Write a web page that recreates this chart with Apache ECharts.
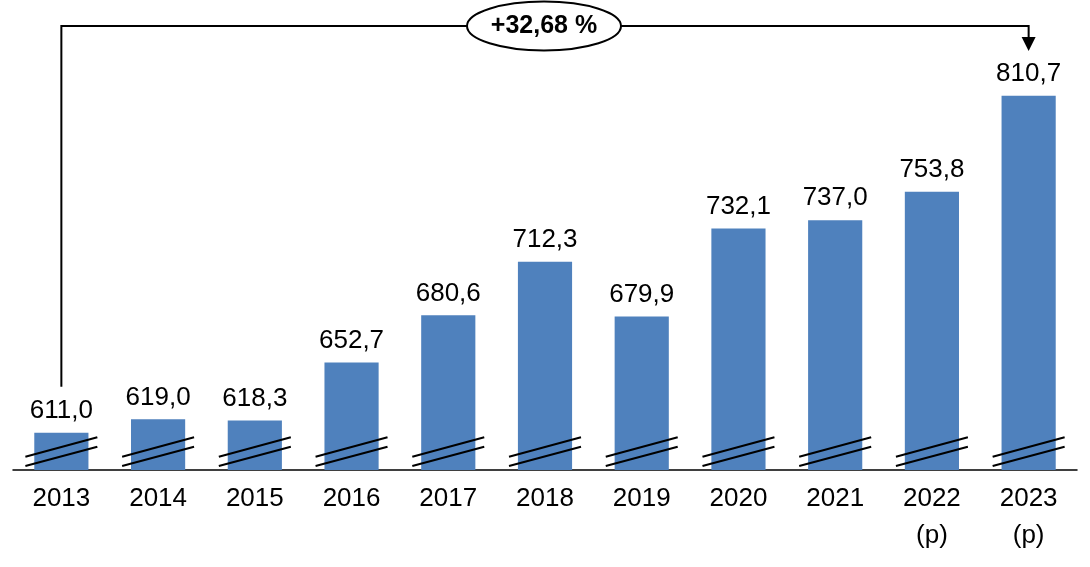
<!DOCTYPE html>
<html>
<head>
<meta charset="utf-8">
<script src="https://cdn.jsdelivr.net/npm/echarts@6/dist/echarts.min.js"></script>
<style>
html,body{margin:0;padding:0;background:#fff;}
#chart{width:1090px;height:567px;}
</style>
</head>
<body>
<div id="chart"></div>
<script>
const categories = ['2013','2014','2015','2016','2017','2018','2019','2020','2021','2022\n(p)','2023\n(p)'];
const values = [611.0, 619.0, 618.3, 652.7, 680.6, 712.3, 679.9, 732.1, 737.0, 753.8, 810.7];
const growthLabel = '+32,68 %';
const axisMin = 589;
const axisMax = 852;

const FONT = '"Liberation Sans", Arial, sans-serif';
const chart = echarts.init(document.getElementById('chart'));

const option = {
  animation: false,
  backgroundColor: '#ffffff',
  grid: {left: 13, right: 13, top: 26, bottom: 97, containLabel: false},
  xAxis: {
    type: 'category',
    data: categories,
    axisLine: {show: true, lineStyle: {color: '#000', width: 1.5}},
    axisTick: {show: false},
    axisLabel: {color: '#000', fontSize: 26, fontFamily: FONT, lineHeight: 37, margin: 10, interval: 0}
  },
  yAxis: {
    type: 'value', min: axisMin, max: axisMax, show: false,
    splitLine: {show: false}
  },
  series: [
    {
      type: 'bar',
      data: values,
      barCategoryGap: '44%',
      itemStyle: {color: '#4F81BD'},
      label: {
        show: true, position: 'top', distance: 9,
        color: '#000', fontSize: 26, fontFamily: FONT,
        formatter: p => p.value.toFixed(1).replace('.', ',')
      }
    },
    {
      type: 'custom',
      data: categories.map((c, i) => [i]),
      silent: true,
      z: 5,
      renderItem: function (params, api) {
        const p = api.coord([api.value(0), axisMin]);
        const cx = p[0], base = p[1];
        const half = api.size([1, 0])[0] * 0.372;
        const st = {stroke: '#000', lineWidth: 2, fill: null};
        return {
          type: 'group',
          children: [
            {type: 'line', shape: {x1: cx - half, y1: base - 13.3, x2: cx + half, y2: base - 32.7}, style: st},
            {type: 'line', shape: {x1: cx - half, y1: base - 4, x2: cx + half, y2: base - 23.3}, style: st}
          ]
        };
      }
    }
  ]
};
chart.setOption(option);

// Bracket annotation anchored to first and last bars
const first = chart.convertToPixel({gridIndex: 0}, [0, values[0]]);
const last = chart.convertToPixel({gridIndex: 0}, [values.length - 1, values[values.length - 1]]);
const topY = 26;
const midX = (first[0] + last[0]) / 2 - 1;
const lineStyle = {stroke: '#000', lineWidth: 2, fill: null};
chart.setOption({
  graphic: [
    {type: 'polyline', shape: {points: [[first[0], first[1] - 46], [first[0], topY], [last[0], topY], [last[0], topY + 12]]}, style: lineStyle, z: 10},
    {type: 'polygon', shape: {points: [[last[0] - 7, topY + 11], [last[0] + 7, topY + 11], [last[0], topY + 25]]}, style: {fill: '#000'}, z: 10},
    {type: 'ellipse', shape: {cx: midX, cy: topY, rx: 77, ry: 24.5}, style: {fill: '#fff', stroke: '#000', lineWidth: 2}, z: 11},
    {type: 'text', x: midX, y: topY, z: 12,
      style: {text: growthLabel, fill: '#000', font: 'bold 25px ' + FONT, align: 'center', verticalAlign: 'middle'}}
  ]
});
</script>
</body>
</html>
